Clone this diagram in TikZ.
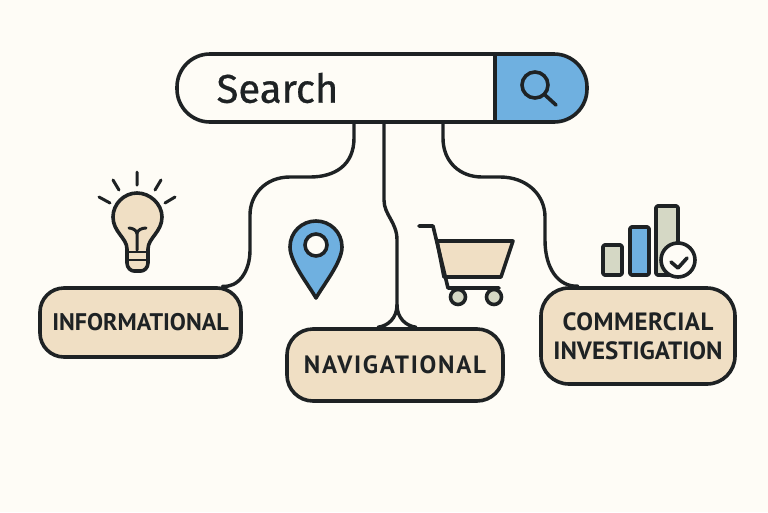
\documentclass[tikz,border=0pt]{standalone}
\usepackage{fontspec}
\setmainfont{PT Sans}
\newfontfamily\searchfont[RawFeature={embolden=0.7}]{Fira Sans}
\usetikzlibrary{calc}
\definecolor{paper}{HTML}{FEFCF6}
\definecolor{ink}{HTML}{1E2224}
\definecolor{sand}{HTML}{F0DFC4}
\definecolor{sky}{HTML}{6FB0E0}
\definecolor{sage}{HTML}{D5D8C5}
\tikzset{
	outline/.style={draw=ink, line width=3.6pt, line join=round, line cap=round},
	link/.style={outline, line width=3.4pt},
	label/.style={
		outline, rectangle, fill=sand, text=ink, align=center, inner sep=0pt,
		font=\fontsize{25}{29}\selectfont\bfseries
	}
}
\begin{document}
\begin{tikzpicture}[x=1pt, y=-1pt]
		\fill[paper] (0,0) rectangle (768,512);
		\useasboundingbox (0,0) rectangle (768,512);

		\fill[sky] (495,54) -- (553,54) arc[start angle=-90, end angle=90, radius=34] -- (495,122) -- cycle;
		\node[
			outline, rectangle, rounded corners=33pt, inner sep=0pt,
			minimum width=410pt, minimum height=68pt
		] (S) at (382,88) {};
		\draw[outline, line cap=butt] (S.north -| 495,0) -- (S.south -| 495,0);
		\node[font=\searchfont\fontsize{40}{40}\selectfont, text=ink, inner sep=0pt] (Q) at (277.5,88) {Search};
		\draw[outline] (535,85) circle[radius=13];
		\draw[outline] (545,95) -- (556,105);

		\node[label, rounded corners=24pt, minimum width=201pt, minimum height=69pt] (I) at (140.5,322.5) {\fontsize{24}{29}\selectfont INFORMATIONAL};
		\node[label, rounded corners=26pt, minimum width=216pt, minimum height=72pt] (N) at (395,365) {\addfontfeature{LetterSpace=7}\raisebox{-2pt}{NAVIGATIONAL}};
		\node[label, rounded corners=28pt, minimum width=194pt, minimum height=96pt] (C) at (638,336) {\addfontfeature{LetterSpace=2}COMMERCIAL\\INVESTIGATION};

		\draw[link] ($(S.south)+(-28,0)$) -- (354,138) .. controls (354,165) and (335,177) .. (310,177) -- (290,177) .. controls (265,177) and (250,195) .. (250,215) -- (250,250) .. controls (250,272) and (238,288) .. ($(I.north)+(82,0)$);
		\coordinate (J) at (397,305);
		\draw[link] ($(S.south)+(2,0)$) -- (384,200) .. controls (384,215) and (397,222) .. (397,240) -- (J);
		\draw[link] (J) .. controls (397,318) and (388,326) .. ($(N.north)+(-17,0)$);
		\draw[link] (J) .. controls (397,318) and (406,326) .. ($(N.north)+(21,0)$);
		\draw[link] ($(S.south)+(61,0)$) -- (443,138) .. controls (443,162) and (460,177) .. (482,177) -- (500,177) .. controls (527,177) and (545,195) .. (545,217) -- (545,240) .. controls (545,268) and (558,287) .. ($(C.north)+(-60,0)$);

		\draw[outline, fill=sand] (127,249) .. controls (127,238) and (113,232) .. (113,217) .. controls (113,204) and (124,193) .. (137,193) .. controls (150,193) and (162,204) .. (162,217) .. controls (162,232) and (148,238) .. (148,249) -- (148,263) .. controls (148,268) and (144,271) .. (141,271) -- (134,271) .. controls (131,271) and (127,268) .. (127,263) -- cycle;
		\draw[outline, line width=2.8pt] (127,252) -- (148,252) (127,260) -- (148,260);
		\draw[outline, line width=3pt] (137,250) -- (137,234) (129,228) .. controls (132,228) and (137,230) .. (137,234) .. controls (137,230) and (142,228) .. (146,228);
		\draw[outline, line width=3pt] (137,172) -- (137,185) (113,180) -- (119,190) (161,180) -- (155,190) (99,197) -- (110,203) (175,197) -- (165,203);

		\draw[outline, fill=sky] (316,298) .. controls (308,284) and (290,262) .. (290,247) .. controls (290,232) and (302,221) .. (316,221) .. controls (330,221) and (342,232) .. (342,247) .. controls (342,262) and (324,284) .. cycle;
		\draw[outline, fill=paper] (316,245) circle[radius=11];

		\draw[outline, fill=sand] (437,241) -- (513,241) -- (501,277) -- (444,277) -- cycle;
		\draw[outline] (419,226) -- (433,226) -- (448,288) -- (499,288);
		\draw[outline, fill=sage] (458,297) circle[radius=7.5];
		\draw[outline, fill=sage] (494,297) circle[radius=7.5];

		\draw[outline, fill=sage, rounded corners=1.5pt] (603,245) rectangle (622,275);
		\draw[outline, fill=sky, rounded corners=1.5pt] (630,227) rectangle (649,275);
		\draw[outline, fill=sage, rounded corners=1.5pt] (656,206) rectangle (678,275);
		\draw[outline, fill=paper] (678,260) circle[radius=17];
		\draw[outline] (671,262) -- (678,268) -- (687,258);
	\end{tikzpicture}
\end{document}
